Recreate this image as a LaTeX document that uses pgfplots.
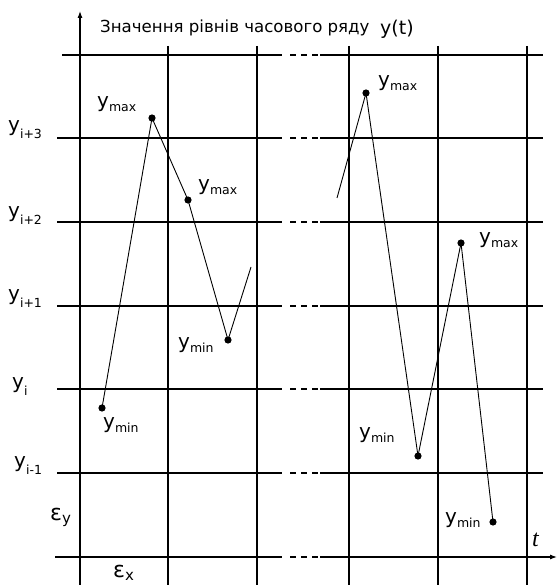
\documentclass[border=0pt]{standalone}
\usepackage{pgfplots}
\pgfplotsset{compat=1.18}
\usetikzlibrary{arrows.meta}
\usepackage{fontspec}
\setmainfont{DejaVu Sans}
\newfontfamily\serif{Liberation Serif}

\tikzset{gl/.style={black, line width=1.1pt}}

% y with a lowered small index
\newcommand{\yl}[2][4pt]{{\fontsize{20}{20}\selectfont y}\raisebox{-#1}{\fontsize{12.5}{12.5}\selectfont #2}}
\newcommand{\el}[1]{{\fontsize{22}{22}\selectfont ε}\raisebox{-3pt}{\fontsize{15}{15}\selectfont #1}}

\begin{document}
\begin{tikzpicture}
\begin{axis}[
  hide axis,
  x=1pt, y=1pt,
  xmin=0, xmax=558,
  ymin=0, ymax=585,
  y dir=reverse,
  clip=false,
]
% horizontal levels, broken by a dashed gap
\foreach \yy/\xs in {55/62,138/57,222/57,306/57,389/57,473/57} {
  \edef\tmp{\noexpand\draw[gl] (axis cs:\xs,\yy) -- (axis cs:282,\yy);
    \noexpand\draw[gl, dash pattern=on 6pt off 5pt] (axis cs:290,\yy) -- (axis cs:318,\yy);
    \noexpand\draw[gl] (axis cs:320,\yy) -- (axis cs:543,\yy);}
  \tmp
}
% time axis
\draw[gl] (axis cs:55,557) -- (axis cs:282,557);
\draw[gl, dash pattern=on 6pt off 5pt] (axis cs:290,557) -- (axis cs:318,557);
\draw[gl, -{Latex[length=7pt,width=5pt]}] (axis cs:320,557) -- (axis cs:557,557);
% vertical lines
\foreach \xx in {168,257,349,438,527} {
  \edef\tmp{\noexpand\draw[gl] (axis cs:\xx,46) -- (axis cs:\xx,585);}
  \tmp
}
% value axis
\draw[gl, -{Latex[length=7pt,width=5pt]}] (axis cs:80,585) -- (axis cs:80,11);

% series
\addplot[black, line width=0.9pt, mark=*, mark size=3.1pt, mark indices={1,2,3,4}]
  coordinates {(102,408) (152,118) (188,200) (228,340) (251,267)};
\addplot[black, line width=0.9pt, mark=*, mark size=3.1pt, mark indices={2,3,4,5}]
  coordinates {(337,198) (366,93) (418,456) (461,243) (493,522)};

% point labels
\node[anchor=base west, inner sep=0] at (axis cs:97,108) {\yl{max}};
\node[anchor=base west, inner sep=0] at (axis cs:198,190) {\yl{max}};
\node[anchor=base west, inner sep=0] at (axis cs:378,87) {\yl{max}};
\node[anchor=base west, inner sep=0] at (axis cs:479,243) {\yl{max}};
\node[anchor=base west, inner sep=0] at (axis cs:103,428) {\yl{min}};
\node[anchor=base west, inner sep=0] at (axis cs:178,348) {\yl{min}};
\node[anchor=base west, inner sep=0] at (axis cs:359,438) {\yl{min}};
\node[anchor=base west, inner sep=0] at (axis cs:445,523) {\yl{min}};

% level labels
\node[anchor=base west, inner sep=0] at (axis cs:8,132) {\yl[7pt]{i+3}};
\node[anchor=base west, inner sep=0] at (axis cs:8,217) {\yl[7pt]{i+2}};
\node[anchor=base west, inner sep=0] at (axis cs:8,300) {\yl[7pt]{i+1}};
\node[anchor=base west, inner sep=0] at (axis cs:12,388) {\yl[7pt]{i}};
\node[anchor=base west, inner sep=0] at (axis cs:14,467) {\yl[7pt]{i-1}};
\node[anchor=base west, inner sep=0] at (axis cs:50,520) {\el{y}};
\node[anchor=base west, inner sep=0] at (axis cs:113,577) {\el{x}};

% titles
\node[anchor=base west, inner sep=0] at (axis cs:100,33)
  {\fontsize{16.6}{17}\selectfont Значення рівнів часового ряду};
\node[anchor=base west, inner sep=0] at (axis cs:380,35)
  {\fontsize{19}{19}\selectfont y(t)};
\node[anchor=base west, inner sep=0] at (axis cs:532,546)
  {\fontsize{24}{24}\selectfont\serif\itshape t};
\end{axis}
\pgfresetboundingbox
\path (0,0) rectangle (558pt,585pt);
\end{tikzpicture}
\end{document}
